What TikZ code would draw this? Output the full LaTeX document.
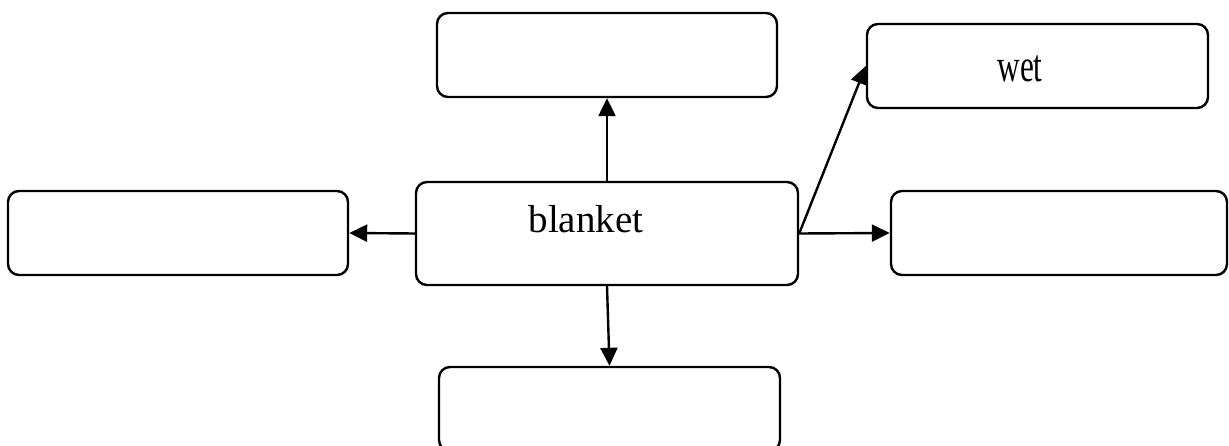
\documentclass[tikz,border=0pt]{standalone}
\usepackage{fontspec}
\setmainfont{Liberation Serif}
\usetikzlibrary{arrows.meta}
\begin{document}
\begin{tikzpicture}[x=1pt,y=-1pt,
  box/.style={draw=black,line width=2.4pt,rounded corners=11pt,minimum width=#1,minimum height=84pt,inner sep=0pt},
  box/.default=340pt,
  conn/.style={line width=2.4pt,-{Triangle[length=18pt,width=17pt]}},
  lbl/.style={inner sep=0pt,anchor=base}]
\useasboundingbox (0,0) rectangle (1229,446);
\node[box=382pt,minimum height=103pt] (c) at (607,233.5) {};
\node[box] (top) at (607,55) {};
\node[box=341pt] (wet) at (1037.5,66) {};
\node[box] (left) at (178,233) {};
\node[box=336pt] (right) at (1059,233) {};
\node[box=341pt] (bot) at (609.5,409) {};
\node[lbl] (tb) at (586,233) {\fontsize{39}{46}\selectfont blanket};
\node[lbl] (tw) at (1020,82) {\scalebox{0.68}[1]{\fontsize{46}{54}\selectfont wet}};
\draw[conn] (c.north) -- (top.south);
\draw[conn] (c.west) -- (left.east);
\draw[conn] (c.east) -- (right.west);
\draw[conn] (c.east) -- (wet.west);
\draw[conn] (c.south) -- (bot.north);
\end{tikzpicture}
\end{document}
